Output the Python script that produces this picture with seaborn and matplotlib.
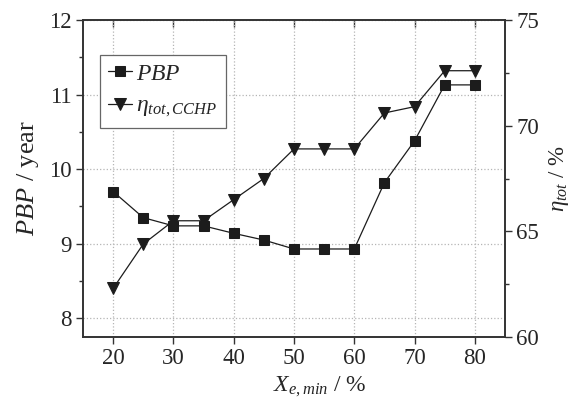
import matplotlib
matplotlib.use('Agg')
import matplotlib.pyplot as plt
import seaborn as sns
import pandas as pd
from matplotlib.ticker import MultipleLocator

# data
x_min = [20, 25, 30, 35, 40, 45, 50, 55, 60, 65, 70, 75, 80]
pbp = [9.70, 9.35, 9.24, 9.24, 9.14, 9.05, 8.93, 8.93, 8.93, 9.82, 10.38, 11.13, 11.13]
eta_tot = [62.3, 64.4, 65.5, 65.5, 66.5, 67.5, 68.9, 68.9, 68.9, 70.6, 70.9, 72.6, 72.6]

df = pd.DataFrame({'x': x_min, 'pbp': pbp, 'eta': eta_tot})

sns.set_style('ticks')
plt.rcParams['font.family'] = ['Liberation Serif', 'DejaVu Serif']
plt.rcParams['mathtext.fontset'] = 'custom'
plt.rcParams['mathtext.it'] = 'Liberation Serif:italic'
plt.rcParams['mathtext.rm'] = 'Liberation Serif'
plt.rcParams['xtick.direction'] = 'out'
plt.rcParams['ytick.direction'] = 'out'

fig = plt.figure(figsize=(5.76, 4.0), dpi=100)
ax = fig.add_axes([83 / 576, 1 - 337 / 400, 422 / 576, 317 / 400])
ax2 = ax.twinx()

c = '#1c1c1c'
sns.lineplot(data=df, x='x', y='pbp', ax=ax, color=c, marker='s',
             markersize=6.5, linewidth=0.9, markeredgecolor=c, label='$PBP$', legend=False)
sns.lineplot(data=df, x='x', y='eta', ax=ax2, color=c, marker='v', markersize=9,
             linewidth=0.9, markeredgecolor=c, label=r'$\eta_{tot,CCHP}$', legend=False)

ax.set_xlim(15, 85)
ax.set_ylim(7.75, 12)
ax2.set_ylim(60, 75)
ax.set_xticks([20, 30, 40, 50, 60, 70, 80])
ax.set_yticks([8, 9, 10, 11, 12])
ax2.set_yticks([60, 65, 70, 75])
ax.yaxis.set_minor_locator(MultipleLocator(0.5))
ax2.yaxis.set_minor_locator(MultipleLocator(2.5))

ax.grid(True, which='major', linestyle=':', color='#b5b5b5', linewidth=0.9)

for a in (ax, ax2):
    a.tick_params(which='major', labelsize=16.5, length=5, width=1, color='#333333', pad=3)
    a.tick_params(which='minor', length=3, width=1, color='#333333')
    for s in a.spines.values():
        s.set_linewidth(1.2)
        s.set_color('#333333')

# inward ticks along the top edge
top = ax.secondary_xaxis('top')
top.set_xticks([20, 30, 40, 50, 60, 70, 80])
top.tick_params(direction='in', length=5, width=1, color='#333333', labeltop=False)
top.spines['top'].set_visible(False)

ax.set_xlabel('$X_{e,min}$ / %', fontsize=17)
ax.xaxis.set_label_coords(0.56, -0.118)
ax.set_ylabel('$PBP$ / year', fontsize=19)
ax.yaxis.set_label_coords(-0.10, 0.5)
ax2.set_ylabel(r'$\eta_{tot}$ / %', fontsize=16.5)
ax2.yaxis.set_label_coords(1.10, 0.5)

h1, l1 = ax.get_legend_handles_labels()
h2, l2 = ax2.get_legend_handles_labels()
leg = ax2.legend(h1 + h2, l1 + l2, loc='upper left', bbox_to_anchor=(0.04, 0.89),
                 fontsize=17, frameon=True, fancybox=False, handlelength=1.0,
                 handletextpad=0.2, borderpad=0.35, labelspacing=0.45,
                 borderaxespad=0.0, framealpha=1.0)
leg.get_frame().set_edgecolor('#666666')
leg.get_frame().set_linewidth(0.9)

plt.savefig('out.png', dpi=100, facecolor='white')
